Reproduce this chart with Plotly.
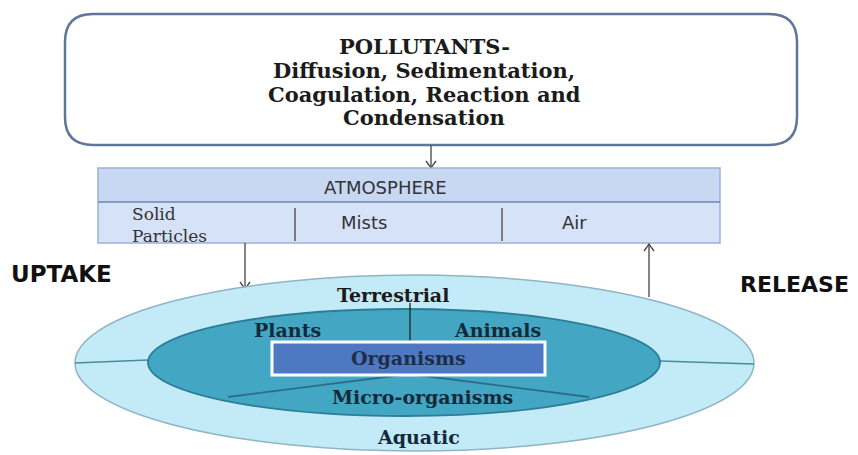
import plotly.graph_objects as go

# ---- content (text) ----
header_lines = ["POLLUTANTS-", "Diffusion, Sedimentation,", "Coagulation, Reaction and", "Condensation"]
atmosphere_title = "ATMOSPHERE"
atmosphere_parts = ["Solid<br>Particles", "Mists", "Air"]
flow_labels = ["UPTAKE", "RELEASE"]
environment_labels = ["Terrestrial", "Aquatic"]
organism_groups = ["Plants", "Animals", "Micro-organisms"]
centre_label = "Organisms"

# ---- layout geometry (pixel space of the page, y downwards) ----
W, H = 858, 455
PAD = 8  # default page body margin
header_box = dict(x0=65, x1=797, y0=14, y1=145, r=28)
header_y = [46, 70, 94, 117]
atm_box = dict(x0=98, x1=720, y0=168, y1=243, split=202)
atm_dividers = [295, 502]
outer_ell = dict(x0=75, x1=754, y0=275, y1=451)
inner_ell = dict(x0=148, x1=660, y0=309, y1=416)
org_box = dict(x0=272, x1=545, y0=342, y1=375)

SERIF = "DejaVu Serif"
SANS = "DejaVu Sans"
TXT = "#1b1b1b"
NAVY = "#14293a"

fig = go.Figure()
shapes = []
ann = []


def line(x0, y0, x1, y1, color="#333333", width=1.2):
    shapes.append(dict(type="line", xref="x", yref="y", x0=x0, y0=y0, x1=x1, y1=y1,
                       line=dict(color=color, width=width)))


def arrow(x, y_from, y_to, color="#444444"):
    line(x, y_from, x, y_to, color, 1.3)
    d = 7 if y_to > y_from else -7
    shapes.append(dict(type="path", xref="x", yref="y",
                       path=f"M {x-5},{y_to-d} L {x},{y_to} L {x+5},{y_to-d}",
                       line=dict(color=color, width=1.3)))


# header rounded box
b = header_box
r = b["r"]
p = (f"M {b['x0']+r},{b['y0']} L {b['x1']-r},{b['y0']} Q {b['x1']},{b['y0']} {b['x1']},{b['y0']+r} "
     f"L {b['x1']},{b['y1']-r} Q {b['x1']},{b['y1']} {b['x1']-r},{b['y1']} "
     f"L {b['x0']+r},{b['y1']} Q {b['x0']},{b['y1']} {b['x0']},{b['y1']-r} "
     f"L {b['x0']},{b['y0']+r} Q {b['x0']},{b['y0']} {b['x0']+r},{b['y0']} Z")
shapes.append(dict(type="path", xref="x", yref="y", path=p, fillcolor="#ffffff",
                   line=dict(color="#5f7797", width=2.5)))
for txt, y in zip(header_lines, header_y):
    ann.append(dict(x=424, y=y, text=f"<b>{txt}</b>", showarrow=False,
                    font=dict(family=SERIF, size=21, color=TXT)))

# arrow header -> atmosphere
arrow(431, header_box["y1"], atm_box["y0"])

# atmosphere box
a = atm_box
shapes.append(dict(type="rect", xref="x", yref="y", x0=a["x0"], x1=a["x1"], y0=a["y0"], y1=a["split"],
                   fillcolor="#c8d8f3", line=dict(width=0)))
shapes.append(dict(type="rect", xref="x", yref="y", x0=a["x0"], x1=a["x1"], y0=a["split"], y1=a["y1"],
                   fillcolor="#d6e2f7", line=dict(width=0)))
shapes.append(dict(type="rect", xref="x", yref="y", x0=a["x0"], x1=a["x1"], y0=a["y0"], y1=a["y1"],
                   fillcolor="rgba(0,0,0,0)", line=dict(color="#9cb1d8", width=1.5)))
line(a["x0"], a["split"], a["x1"], a["split"], "#6f84a8", 1.5)
for xd in atm_dividers:
    line(xd, a["split"] + 6, xd, a["y1"] - 2, "#444444", 1.3)
ann.append(dict(x=385, y=187, text=atmosphere_title, showarrow=False,
                font=dict(family=SANS, size=18, color="#333333")))
ann.append(dict(x=130, y=225, text=atmosphere_parts[0], showarrow=False, xanchor="left", align="left",
                font=dict(family=SERIF, size=17, color="#333333")))
ann.append(dict(x=364, y=222, text=atmosphere_parts[1], showarrow=False,
                font=dict(family=SANS, size=18, color="#333333")))
ann.append(dict(x=574, y=222, text=atmosphere_parts[2], showarrow=False,
                font=dict(family=SANS, size=18, color="#333333")))

# uptake / release arrows
arrow(245, a["y1"], 289)
arrow(649, 297, a["y1"] + 1)
ann.append(dict(x=9, y=274, text=f"<b>{flow_labels[0]}</b>", showarrow=False, xanchor="left",
                font=dict(family=SANS, size=23, color="#111111")))
ann.append(dict(x=851, y=284, text=f"<b>{flow_labels[1]}</b>", showarrow=False, xanchor="right",
                font=dict(family=SANS, size=22, color="#111111")))

# outer ellipse
o = outer_ell
shapes.append(dict(type="circle", xref="x", yref="y", x0=o["x0"], x1=o["x1"], y0=o["y0"], y1=o["y1"],
                   fillcolor="#c3eaf7", line=dict(color="#8fb4c4", width=1.5)))
line(o["x0"], 363, inner_ell["x0"], 360, "#4d8a9e", 1.5)
line(inner_ell["x1"], 361, o["x1"], 364, "#4d8a9e", 1.5)

# inner ellipse
i = inner_ell
shapes.append(dict(type="circle", xref="x", yref="y", x0=i["x0"], x1=i["x1"], y0=i["y0"], y1=i["y1"],
                   fillcolor="#43a6c2", line=dict(color="#2b7d98", width=1.8)))
line(410, 303, 410, org_box["y0"], "#222222", 1.3)
shapes.append(dict(type="path", xref="x", yref="y",
                   path="M 228,397 L 409,374 L 589,397",
                   line=dict(color="#2a6f88", width=1.8)))

# organisms box
g = org_box
shapes.append(dict(type="rect", xref="x", yref="y", x0=g["x0"], x1=g["x1"], y0=g["y0"], y1=g["y1"],
                   fillcolor="#4e78c2", line=dict(color="#ffffff", width=3)))

ann.append(dict(x=393, y=295, text=f"<b>{environment_labels[0]}</b>", showarrow=False,
                font=dict(family=SERIF, size=19, color=TXT)))
ann.append(dict(x=418, y=437, text=f"<b>{environment_labels[1]}</b>", showarrow=False,
                font=dict(family=SERIF, size=19, color=NAVY)))
ann.append(dict(x=287, y=330, text=f"<b>{organism_groups[0]}</b>", showarrow=False,
                font=dict(family=SERIF, size=19, color=NAVY)))
ann.append(dict(x=497, y=330, text=f"<b>{organism_groups[1]}</b>", showarrow=False,
                font=dict(family=SERIF, size=19, color=NAVY)))
ann.append(dict(x=422, y=397, text=f"<b>{organism_groups[2]}</b>", showarrow=False,
                font=dict(family=SERIF, size=19, color=NAVY)))
ann.append(dict(x=408, y=358, text=f"<b>{centre_label}</b>", showarrow=False,
                font=dict(family=SERIF, size=19, color="#1d2d4a")))

fig.update_layout(
    width=W - PAD, height=H - PAD, margin=dict(l=0, r=0, t=0, b=0),
    paper_bgcolor="white", plot_bgcolor="white",
    xaxis=dict(range=[PAD, W], visible=False, fixedrange=True),
    yaxis=dict(range=[H, PAD], visible=False, fixedrange=True),
    shapes=shapes, annotations=ann, showlegend=False,
)
fig.write_html("out.html", config={"displayModeBar": False})
